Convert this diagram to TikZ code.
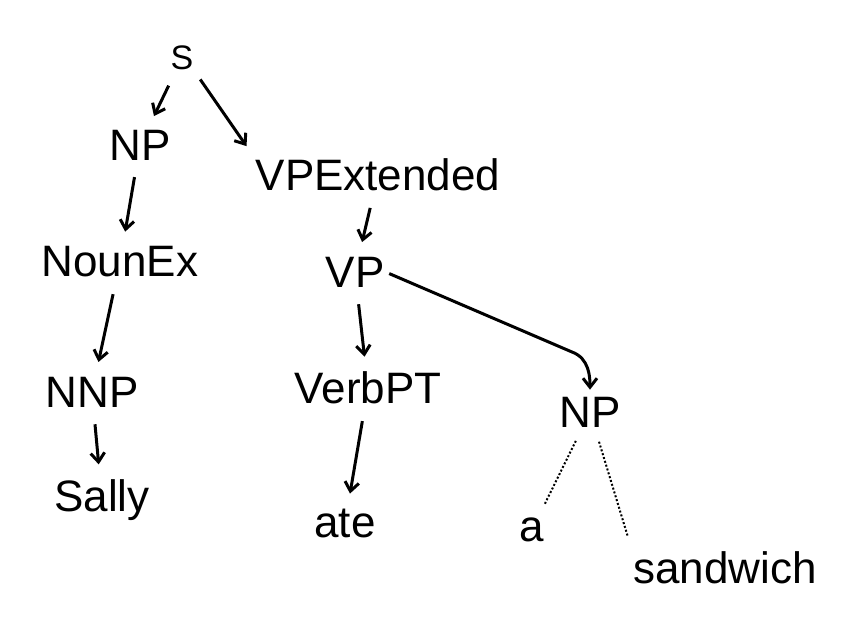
\documentclass[tikz,border=0pt]{standalone}
\usepackage{fontspec}
\setmainfont{Liberation Sans}
\usetikzlibrary{arrows.meta}

\begin{document}
\begin{tikzpicture}[x=1pt,y=-1pt,>={Straight Barb[length=9pt,width=14pt]},
  lbl/.style={font=\fontsize{44}{50}\selectfont,inner sep=1pt},
  link/.style={->,line width=3pt,shorten >=14pt,shorten <=16pt},
  leaf/.style={dotted,line width=2pt,shorten >=14pt,shorten <=14pt}]
  \useasboundingbox (0,0) rectangle (863,644);
  % tree labels
  \foreach \x/\y/\name/\txt in {140/145/np/NP,378/175/vpx/VPExtended,
      120/262/noun/NounEx,355/272/vp/VP,92/392/nnp/NNP,368/388/verb/VerbPT,
      590/412/npb/NP,102/500/sally/Sally,345/523/ate/ate,532/530/a/a,725/568/sand/sandwich}{
    \node[lbl] (\name) at (\x,\y) {\txt};
  }
  \node[lbl,font=\fontsize{34}{40}\selectfont] (s) at (182,58) {S};
  \draw[link] (s) -- (np);
  \draw[link,shorten <=10pt] (s.south east) -- (vpx.north west);
  \draw[link] (np) -- (noun);
  \draw[link] (vpx) -- (vp);
  \draw[link] (noun) -- (nnp);
  \draw[link] (vp) -- (verb);
  \draw[link] (nnp) -- (sally);
  \draw[link] (verb) -- (ate);
  \draw[->,line width=3pt,shorten >=6pt,shorten <=4pt] (vp.east) -- (572,352) to[out=-20,in=90] (npb.north);
  \draw[leaf] (npb) -- (a);
  \draw[leaf] (npb) -- (sand.north west);
\end{tikzpicture}
\end{document}
